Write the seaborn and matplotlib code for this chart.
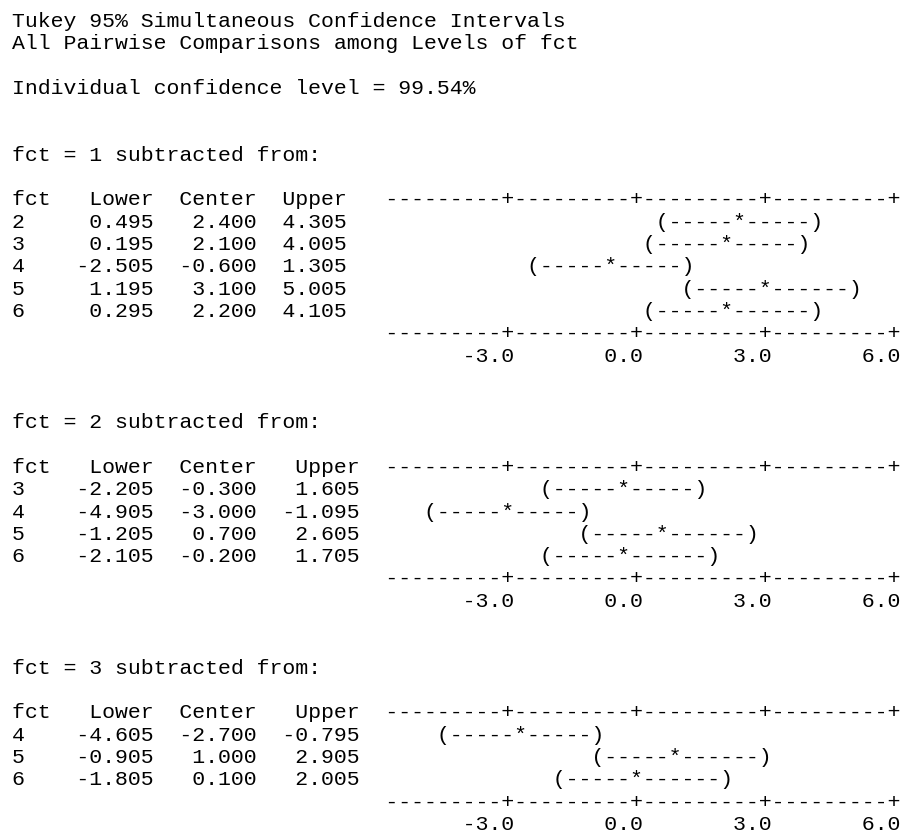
import numpy as np
import pandas as pd
import matplotlib
matplotlib.use("Agg")
import matplotlib.pyplot as plt
import seaborn as sns

# Minitab session output: Tukey pairwise comparisons among levels of fct
title_lines = ["Tukey 95% Simultaneous Confidence Intervals",
               "All Pairwise Comparisons among Levels of fct"]
conf_level = 99.54

# fct = 1 subtracted from
levels_1 = [2, 3, 4, 5, 6]
lower_1 = [0.495, 0.195, -2.505, 1.195, 0.295]
center_1 = [2.400, 2.100, -0.600, 3.100, 2.200]
upper_1 = [4.305, 4.005, 1.305, 5.005, 4.105]

# fct = 2 subtracted from
levels_2 = [3, 4, 5, 6]
lower_2 = [-2.205, -4.905, -1.205, -2.105]
center_2 = [-0.300, -3.000, 0.700, -0.200]
upper_2 = [1.605, -1.095, 2.605, 1.705]

# fct = 3 subtracted from
levels_3 = [4, 5, 6]
lower_3 = [-4.605, -0.905, -1.805]
center_3 = [-2.700, 1.000, 0.100]
upper_3 = [-0.795, 2.905, 2.005]

scale_ticks = [-3.0, 0.0, 3.0, 6.0]

groups = [
    (1, pd.DataFrame({"fct": levels_1, "Lower": lower_1, "Center": center_1, "Upper": upper_1})),
    (2, pd.DataFrame({"fct": levels_2, "Lower": lower_2, "Center": center_2, "Upper": upper_2})),
    (3, pd.DataFrame({"fct": levels_3, "Lower": lower_3, "Center": center_3, "Upper": upper_3})),
]

# character plot layout
plot_col = 29          # column where the text plot starts
chars_per_tick = 10
plot_len = chars_per_tick * len(scale_ticks)
step = (scale_ticks[1] - scale_ticks[0]) / chars_per_tick


def char_col(v):
    return int(np.floor(chars_per_tick - 1 + (v - scale_ticks[0]) / step + 0.5))


def interval_text(lo, ce, up):
    row = [" "] * plot_len
    a, b, c = char_col(lo), char_col(ce), char_col(up)
    for k in range(a + 1, c):
        row[k] = "-"
    row[a] = "("
    row[c] = ")"
    row[b] = "*"
    return "".join(row).rstrip()


def axis_text():
    row = ["-"] * plot_len
    for t in scale_ticks:
        row[char_col(t)] = "+"
    return "".join(row)


def label_text():
    row = [" "] * plot_len
    for t in scale_ticks:
        s = f"{t:.1f}"
        end = char_col(t)
        for k, ch in enumerate(s):
            row[end - len(s) + 1 + k] = ch
    return "".join(row)


lines = title_lines + ["", f"Individual confidence level = {conf_level:.2f}%", "", ""]

for gi, (base, df) in enumerate(groups):
    lines.append(f"fct = {base} subtracted from:")
    lines.append("")
    cols = ["Lower", "Center", "Upper"]
    txt = {c: [f"{v:.3f}" for v in df[c]] for c in cols}
    widths = {c: max(len(c), max(len(s) for s in txt[c])) for c in cols}
    head = "fct" + "".join("  " + c.rjust(widths[c]) for c in cols)
    lines.append(head.ljust(plot_col) + axis_text())
    for i, lvl in enumerate(df["fct"]):
        left = f"{lvl:<3}" + "".join("  " + txt[c][i].rjust(widths[c]) for c in cols)
        right = interval_text(df["Lower"][i], df["Center"][i], df["Upper"][i])
        lines.append(left.ljust(plot_col) + right)
    lines.append(" " * plot_col + axis_text())
    lines.append(" " * plot_col + label_text())
    if gi < len(groups) - 1:
        lines += ["", ""]

sns.set_theme(style="white")
plt.rcParams["font.family"] = ["Liberation Mono", "DejaVu Sans Mono"]

fig = plt.figure(figsize=(9.04, 8.35), dpi=100)
ax = fig.add_axes([0, 0, 1, 1])
ax.set_xlim(0, 904)
ax.set_ylim(835, 0)
ax.axis("off")

line_h = 22.3
for i, s in enumerate(lines):
    ax.text(12, 27 + line_h * i, s, ha="left", va="baseline",
            fontsize=15.45, color="black")

fig.savefig("out.png", dpi=100, facecolor="white")
